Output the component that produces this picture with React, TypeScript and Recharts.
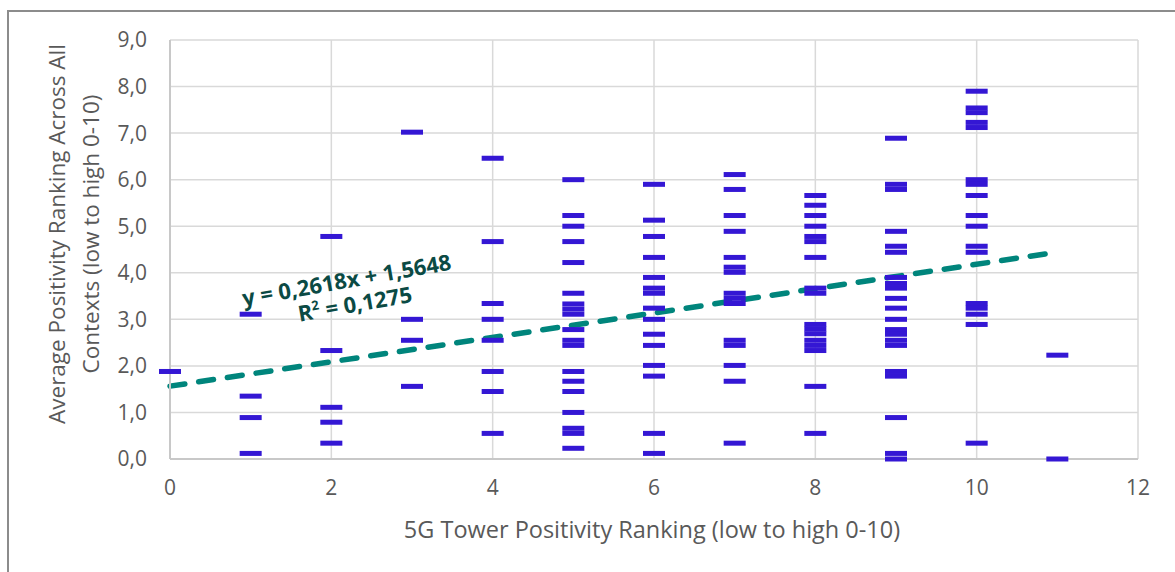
import React from "react";
import {
  ScatterChart,
  Scatter,
  XAxis,
  YAxis,
  CartesianGrid,
  ReferenceLine,
} from "recharts";

// 5G tower ranking (x) -> average positivity values (y)
const towerRanks = [0, 1, 2, 3, 4, 5, 6, 7, 8, 9, 10, 11];
const avgRank0 = [1.88];
const avgRank1 = [3.11, 1.35, 0.89, 0.12];
const avgRank2 = [4.78, 2.33, 1.11, 0.79, 0.34];
const avgRank3 = [7.02, 3.0, 2.55, 1.56];
const avgRank4 = [6.46, 4.67, 3.34, 3.0, 2.55, 1.88, 1.45, 0.55];
const avgRank5 = [
  6.0, 5.23, 5.0, 4.67, 4.22, 3.56, 3.33, 3.22, 3.11, 2.78, 2.55, 2.44, 1.88,
  1.67, 1.45, 1.0, 0.66, 0.55, 0.23,
];
const avgRank6 = [
  5.9, 5.13, 4.78, 4.33, 3.9, 3.67, 3.56, 3.24, 3.0, 2.68, 2.44, 2.01, 1.78,
  0.55, 0.12,
];
const avgRank7 = [
  6.11, 5.79, 5.23, 4.89, 4.33, 4.12, 4.01, 3.56, 3.45, 3.34, 2.55, 2.44, 2.01,
  1.67, 0.34,
];
const avgRank8 = [
  5.66, 5.45, 5.23, 5.0, 4.78, 4.67, 4.33, 3.67, 3.56, 2.89, 2.79, 2.69, 2.55,
  2.44, 2.33, 1.56, 0.55,
];
const avgRank9 = [
  6.89, 5.9, 5.79, 4.89, 4.57, 4.44, 3.9, 3.77, 3.67, 3.45, 3.24, 3.0, 2.78,
  2.68, 2.55, 2.44, 1.88, 1.78, 0.89, 0.12, 0.0,
];
const avgRank10 = [
  7.9, 7.54, 7.44, 7.23, 7.12, 6.0, 5.9, 5.66, 5.23, 5.0, 4.57, 4.44, 3.34,
  3.24, 3.11, 2.89, 0.34,
];
const avgRank11 = [2.23, 0.0];

const columns = [
  avgRank0, avgRank1, avgRank2, avgRank3, avgRank4, avgRank5,
  avgRank6, avgRank7, avgRank8, avgRank9, avgRank10, avgRank11,
];

const xTicks = [0, 2, 4, 6, 8, 10, 12];
const yTicks = [0, 1, 2, 3, 4, 5, 6, 7, 8, 9];

// linear trendline as printed on the chart
const slope = 0.2618;
const intercept = 1.5648;
const trendStart = 0;
const trendEnd = 11;

const points = towerRanks.flatMap((x, i) => columns[i].map((y) => ({ x, y })));

const MARK = "#3417d4";
const TREND = "#00857c";
const TEXT = "#595959";
const FONT = "'Open Sans', 'Liberation Sans', sans-serif";

const W = 1175;
const H = 572;

const DashMark = (props: any) => {
  const { cx, cy } = props;
  if (cx == null || cy == null) return null;
  return <rect x={cx - 11} y={cy - 2.5} width={22} height={5} fill={MARK} />;
};

const fmt = (v: number) => v.toFixed(1).replace(".", ",");

export default function App() {
  return (
    <div
      style={{
        position: "absolute",
        left: 0,
        top: 0,
        width: W,
        height: H,
        background: "#fff",
        fontFamily: FONT,
        overflow: "hidden",
      }}
    >
      <div
        style={{
          position: "absolute",
          left: 7,
          top: 10,
          width: W,
          height: H,
          borderLeft: "2px solid #8c8c8c",
          borderTop: "2px solid #8c8c8c",
        }}
      />
      <ScatterChart
        width={W}
        height={H}
        margin={{ top: 40, right: 37, bottom: 0, left: 0 }}
        style={{ position: "absolute", left: 0, top: 0 }}
      >
        <CartesianGrid stroke="#d9d9d9" strokeWidth={1.5} />
        <XAxis
          type="number"
          dataKey="x"
          domain={[0, 12]}
          ticks={xTicks}
          height={113}
          tickLine={false}
          tickMargin={15}
          axisLine={{ stroke: "#c8c8c8", strokeWidth: 2 }}
          tick={{ fill: TEXT, fontSize: 21, fontFamily: FONT }}
        />
        <YAxis
          type="number"
          dataKey="y"
          domain={[0, 9]}
          ticks={yTicks}
          width={170}
          tickLine={false}
          tickMargin={17}
          tickFormatter={fmt}
          axisLine={{ stroke: "#c8c8c8", strokeWidth: 2 }}
          tick={{ fill: TEXT, fontSize: 21, fontFamily: FONT }}
        />
        <Scatter
          data={points}
          shape={DashMark}
          fill={MARK}
          isAnimationActive={false}
        />
        <ReferenceLine
          segment={[
            { x: trendStart, y: intercept + slope * trendStart },
            { x: trendEnd, y: intercept + slope * trendEnd },
          ]}
          stroke={TREND}
          strokeWidth={5.5}
          strokeDasharray="15 14"
          strokeLinecap="round"
        />
      </ScatterChart>
      <svg
        width={W}
        height={H}
        style={{ position: "absolute", left: 0, top: 0, pointerEvents: "none" }}
      >
        <text
          x={652}
          y={538}
          textAnchor="middle"
          fontSize={23.5}
          fill={TEXT}
          fontFamily={FONT}
        >
          5G Tower Positivity Ranking (low to high 0-10)
        </text>
        <g transform="translate(57 234) rotate(-90)" fill={TEXT} fontSize={22.5} fontFamily={FONT}>
          <text x={0} y={8} textAnchor="middle">
            Average Positivity Ranking Across All
          </text>
          <text x={0} y={42} textAnchor="middle">
            Contexts (low to high 0-10)
          </text>
        </g>
        <g
          transform="translate(347 282) rotate(-10)"
          fill="#0b4a44"
          fontWeight="bold"
          fontSize={22}
          fontFamily={FONT}
          textAnchor="middle"
        >
          <text x={0} y={6}>
            y = 0,2618x + 1,5648
          </text>
          <text x={4} y={31}>
            R<tspan fontSize={13} dy={-9}>2</tspan>
            <tspan dy={9}> = 0,1275</tspan>
          </text>
        </g>
      </svg>
    </div>
  );
}
